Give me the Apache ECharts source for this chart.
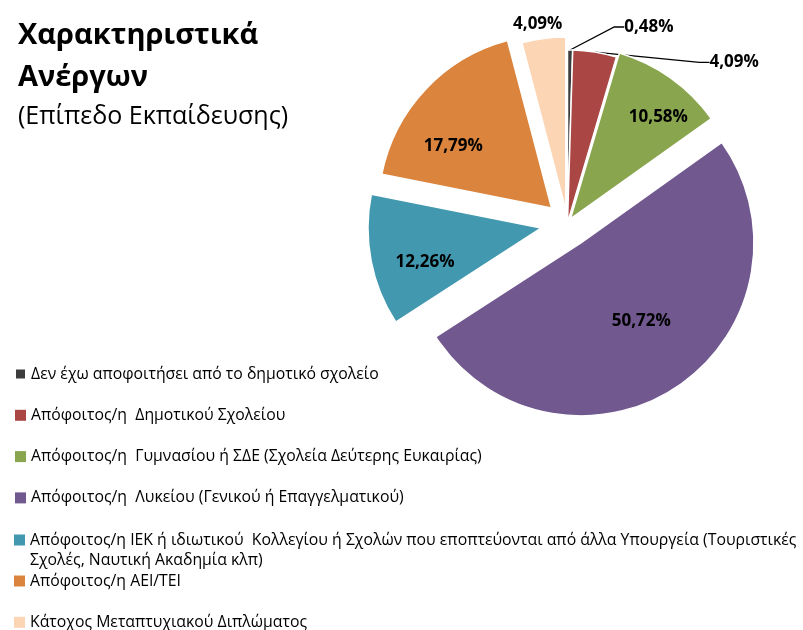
<!DOCTYPE html>
<html>
<head>
<meta charset="utf-8">
<script src="https://cdn.jsdelivr.net/npm/echarts@6/dist/echarts.min.js"></script>
<style>
  html, body { margin: 0; padding: 0; background: #fff; }
  #chart { width: 803px; height: 630px; }
</style>
</head>
<body>
<div id="chart"></div>
<script>
// education level of the unemployed, share in %
const categories = [
  'Δεν έχω αποφοιτήσει από το δημοτικό σχολείο',
  'Απόφοιτος/η  Δημοτικού Σχολείου',
  'Απόφοιτος/η  Γυμνασίου ή ΣΔΕ (Σχολεία Δεύτερης Ευκαιρίας)',
  'Απόφοιτος/η  Λυκείου (Γενικού ή Επαγγελματικού)',
  'Απόφοιτος/η ΙΕΚ ή ιδιωτικού  Κολλεγίου ή Σχολών που εποπτεύονται από άλλα Υπουργεία (Τουριστικές Σχολές, Ναυτική Ακαδημία κλπ)',
  'Απόφοιτος/η ΑΕΙ/ΤΕΙ',
  'Κάτοχος Μεταπτυχιακού Διπλώματος'
]
const shares = [0.48, 4.09, 10.58, 50.72, 12.26, 17.79, 4.09]

const colors = ['#3d3d3d', '#aa4643', '#89a54e', '#71588f', '#4198af', '#db843d', '#fcd5b5']
// how far each slice is pulled out (px)
const explode = [0, 0, 5, 24, 27, 22, 13]
const inside = [false, false, true, true, true, true, false]
// shift of each label from where echarts puts it
const labelShift = [[39, -13], [98, 20], [36, -29], [10, 4], [-28, 17], [-33, 0], [35, -4]]

const cx = 567.5, cy = 223, R = 173
const fmt = v => v.toFixed(2).replace('.', ',') + '%'

const total = shares.reduce((a, b) => a + b, 0)
let acc = 0
const mids = shares.map(v => {
  const m = (acc + v / 2) / total * 2 * Math.PI
  acc += v
  return m
})

const chart = echarts.init(document.getElementById('chart'))

// one pie per slice so every slice can have its own pull-out
const series = categories.map((name, i) => ({
  type: 'pie',
  center: [cx + explode[i] * Math.sin(mids[i]), cy - explode[i] * Math.cos(mids[i])],
  radius: R,
  startAngle: 90,
  clockwise: true,
  avoidLabelOverlap: false,
  silent: true,
  itemStyle: { borderColor: '#fff', borderWidth: 1.5 },
  label: {
    show: true,
    formatter: p => fmt(p.value),
    fontFamily: 'Open Sans', fontSize: 17, fontWeight: 'bold', color: '#000'
  },
  labelLine: { lineStyle: { color: '#000', width: 1.3 } },
  labelLayout: p => {
    const s = labelShift[p.dataIndex]
    const r = p.labelRect
    return {
      x: r.x + r.width / 2 + s[0],
      y: r.y + r.height / 2 + s[1],
      align: 'center',
      verticalAlign: 'middle'
    }
  },
  data: categories.map((n, j) => j === i ? {
    name: n,
    value: shares[j],
    itemStyle: { color: colors[j] },
    label: { position: inside[j] ? 'inside' : 'outside' },
    labelLine: { show: !inside[j] && j !== 6, length: 10, length2: 10 }
  } : {
    name: n,
    value: shares[j],
    itemStyle: { color: 'rgba(0,0,0,0)', borderWidth: 0 },
    label: { show: false },
    labelLine: { show: false }
  })
}))

const legendText = {
  fontFamily: 'Open Sans', fontSize: 15.8, color: '#000', lineHeight: 20
}
const legendItems = categories.map((n, i) => ({ name: n, itemStyle: { color: colors[i] } }))
const legendBase = {
  orient: 'vertical', left: 14, padding: 0, height: 120,
  itemWidth: 11, itemHeight: 11, itemGap: 21.3, icon: 'rect', selectedMode: false,
  textStyle: legendText
}

chart.setOption({
  animation: false,
  title: {
    text: 'Χαρακτηριστικά\nΑνέργων',
    subtext: '(Επίπεδο Εκπαίδευσης)',
    left: 18, top: 15, padding: 0, itemGap: 4,
    textStyle: { fontFamily: 'Open Sans', fontSize: 29, fontWeight: 'bold', color: '#000', lineHeight: 42 },
    subtextStyle: { fontFamily: 'Open Sans', fontSize: 25, color: '#000', lineHeight: 28 }
  },
  legend: [
    Object.assign({}, legendBase, { data: legendItems.slice(0, 4), top: 364, height: 200 }),
    Object.assign({}, legendBase, {
      data: legendItems.slice(4, 5), top: 510,
      // empty first line keeps the marker level with the first text line
      formatter: n => '\n' + n.replace(' Σχολές,', '\nΣχολές,')
    }),
    Object.assign({}, legendBase, { data: legendItems.slice(5), top: 571 })
  ],
  series: series
})
</script>
</body>
</html>
